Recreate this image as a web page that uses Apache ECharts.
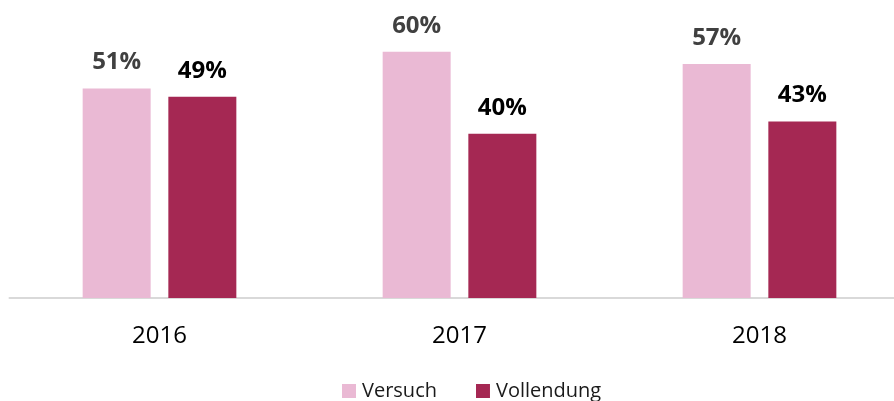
<!DOCTYPE html>
<html>
<head>
<meta charset="utf-8">
<script src="https://cdn.jsdelivr.net/npm/echarts@6/dist/echarts.min.js"></script>
<style>html,body{margin:0;padding:0;background:#fff}#c{width:894px;height:401px}</style>
</head>
<body>
<div id="c"></div>
<script>
var categories = ['2016', '2017', '2018'];
var versuch = [51, 60, 57];
var vollendung = [49, 40, 43];
var seriesNames = ['Versuch', 'Vollendung'];

var chart = echarts.init(document.getElementById('c'), null, {renderer: 'canvas'});
var FONT = '"Open Sans", sans-serif';
chart.setOption({
  animation: false,
  backgroundColor: '#ffffff',
  grid: {left: 9.5, width: 900, top: 10.6, bottom: 103, containLabel: false, outerBoundsMode: 'none'},
  legend: {
    left: 342, top: 381, padding: 0,
    itemWidth: 14, itemHeight: 14, itemGap: 39,
    icon: 'rect',
    textStyle: {fontFamily: FONT, fontSize: 20, lineHeight: 20, color: '#1a1a1a', padding: [0, 0, 0, 1]},
    data: seriesNames
  },
  xAxis: {
    type: 'category',
    data: categories,
    axisLine: {lineStyle: {color: '#d9d9d9', width: 2}},
    axisTick: {show: false},
    axisLabel: {fontFamily: FONT, fontSize: 24, color: '#000000', margin: 26}
  },
  yAxis: {
    type: 'value', min: 0, max: 70, interval: 10,
    show: false,
    splitLine: {show: false}
  },
  series: [
    {
      name: seriesNames[0], type: 'bar', data: versuch,
      barWidth: 68, barGap: '26%',
      itemStyle: {color: '#eab9d4'},
      label: {show: true, position: 'top', distance: 14, formatter: '{c}%',
        fontFamily: FONT, fontSize: 24, fontWeight: 'bold', color: '#404040'}
    },
    {
      name: seriesNames[1], type: 'bar', data: vollendung,
      barWidth: 68, barGap: '26%',
      itemStyle: {color: '#a52853'},
      label: {show: true, position: 'top', distance: 14, formatter: '{c}%',
        fontFamily: FONT, fontSize: 24, fontWeight: 'bold', color: '#000000'}
    }
  ]
});
</script>
</body>
</html>
